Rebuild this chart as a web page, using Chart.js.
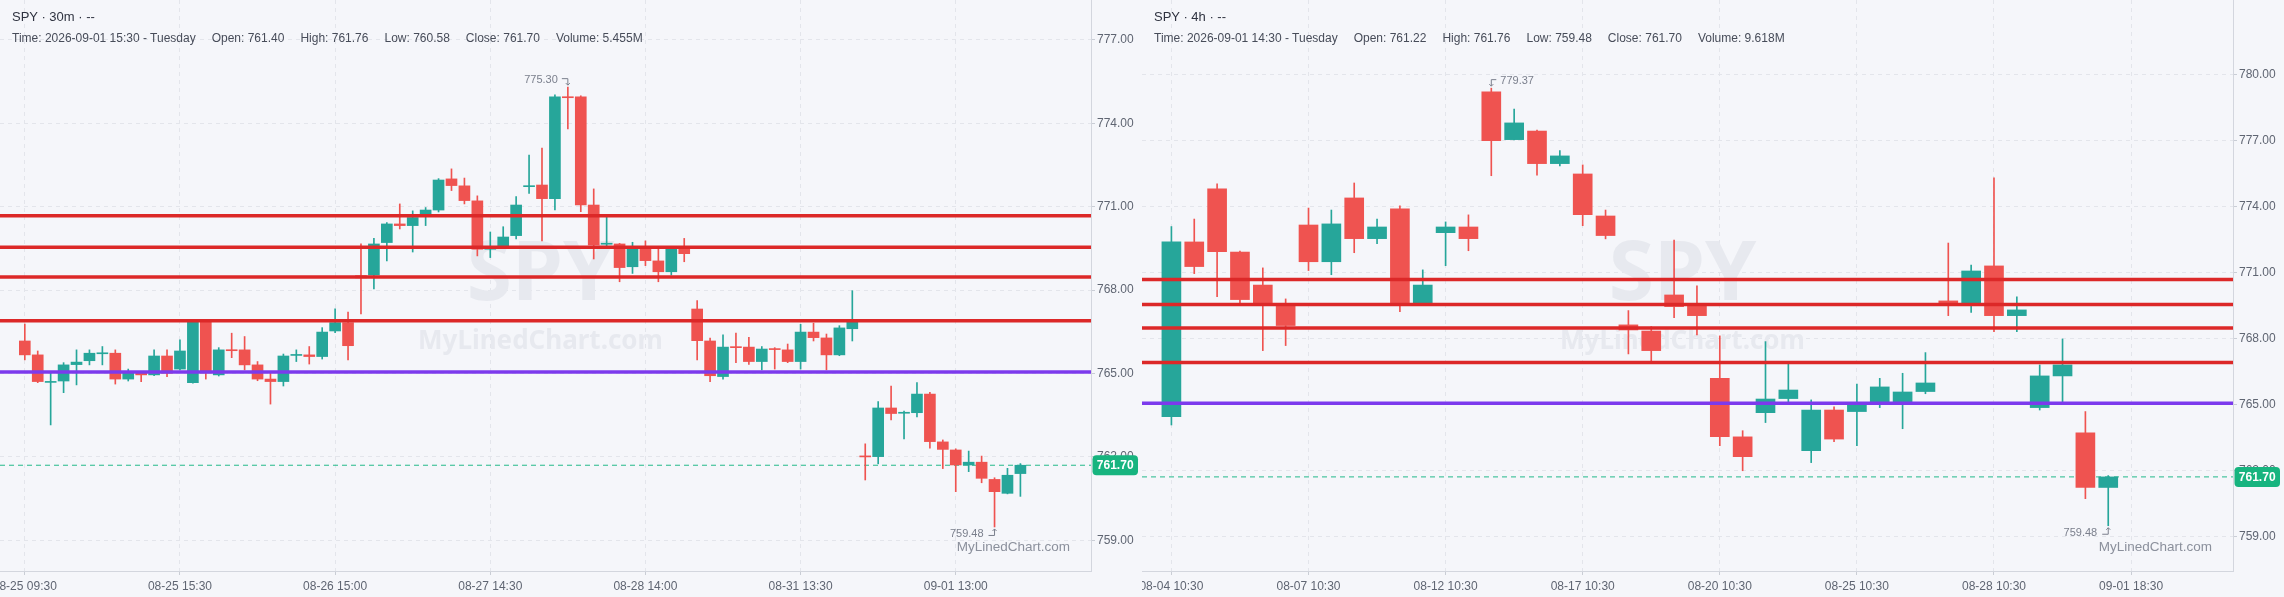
<!DOCTYPE html>
<html>
<head>
<meta charset="utf-8">
<script src="https://cdn.jsdelivr.net/npm/chart.js@4.4.1/dist/chart.umd.min.js"></script>
<style>
  body { margin: 0; width: 2284px; height: 597px; overflow: hidden; position: relative; background: #f5f6fa; font-family: Arial, "Liberation Sans", sans-serif; }
  .panel { position: absolute; top: 0; height: 597px; }
  #p1 { left: 0; width: 1141px; }
  #p2 { left: 1142px; width: 1142px; }
  canvas { position: absolute; left: 0; top: 0; }
  .title { position: absolute; left: 12px; top: 10px; font-size: 13px; line-height: 13px; color: #2f3340; white-space: nowrap; }
  .info { position: absolute; left: 12px; top: 32px; font-size: 12px; line-height: 12px; color: #474c59; white-space: nowrap; }
  .info span { margin-right: 16px; }
</style>
</head>
<body>
<div class="panel" id="p1">
  <canvas id="c1" width="1141" height="597"></canvas>
  <div class="title" id="t1"></div>
  <div class="info" id="i1"></div>
</div>
<div class="panel" id="p2">
  <canvas id="c2" width="1142" height="597"></canvas>
  <div class="title" id="t2"></div>
  <div class="info" id="i2"></div>
</div>
<script>
// 30 minute candles, 08-25 09:30 .. 09-01 15:30
var open30 = [766.17,765.67,764.68,764.73,765.32,765.46,765.71,765.73,764.80,765.01,764.95,765.63,765.16,
  764.67,766.90,764.95,765.85,765.85,765.31,764.80,764.71,765.65,765.67,765.61,766.53,766.83,
  768.52,768.54,769.71,770.38,770.32,770.74,770.88,772.00,771.75,771.21,769.47,769.56,769.96,
  771.72,771.78,771.29,774.95,774.95,771.06,769.65,769.66,768.84,769.47,769.05,768.66,769.47,
  767.32,766.17,764.89,765.95,765.95,765.43,765.88,765.85,765.43,766.49,766.28,765.67,766.61,
  762.03,762.01,763.76,763.57,763.59,764.26,762.54,762.25,761.71,761.81,761.19,760.69,761.40];
var high30 = [766.78,765.81,765.01,765.39,765.85,765.85,765.97,765.85,765.16,765.07,765.85,765.85,766.21,
  766.93,766.93,765.93,766.45,766.33,765.43,765.01,765.70,765.85,765.97,766.65,767.33,767.21,
  769.66,769.86,770.43,771.10,770.85,770.97,772.01,772.36,772.03,771.39,770.09,770.28,771.36,
  772.86,773.11,775.02,775.30,774.99,771.64,770.62,769.68,769.72,769.77,769.48,769.50,769.86,
  767.62,766.27,766.39,766.45,766.30,765.97,765.93,766.06,766.77,766.81,766.42,766.72,767.98,
  762.47,763.99,764.55,763.65,764.67,764.32,762.61,762.29,762.21,762.03,761.25,761.59,761.76];
var low30 = [765.49,764.67,763.15,764.31,764.59,765.31,765.31,764.62,764.73,764.71,764.92,764.89,765.13,
  764.65,764.80,764.91,765.57,765.13,764.74,763.90,764.55,765.43,765.34,765.52,766.47,765.49,
  767.14,768.04,769.05,770.20,769.37,770.32,770.81,771.58,771.10,769.23,769.17,769.54,769.84,
  771.48,769.77,770.88,773.80,770.82,769.12,769.50,768.30,768.60,768.88,768.30,768.54,769.02,
  765.49,764.71,764.80,765.39,765.33,765.13,765.16,765.39,765.16,766.17,765.13,765.64,766.17,
  761.17,761.75,763.33,762.65,763.44,762.31,761.58,760.75,761.47,761.07,759.48,760.67,760.58];
var close30 = [765.67,764.71,764.70,765.31,765.41,765.73,765.74,764.80,765.01,764.95,765.63,765.01,765.81,
  766.90,765.02,765.85,765.82,765.31,764.80,764.71,765.63,765.68,765.61,766.49,766.83,766.00,
  768.44,769.66,770.38,770.32,770.61,770.88,771.96,771.76,771.22,769.47,769.49,769.91,771.06,
  771.75,771.29,774.95,774.92,771.06,769.62,769.67,768.81,769.47,769.06,768.66,769.47,769.31,
  766.18,764.92,765.95,765.93,765.43,765.88,765.86,765.43,766.49,766.29,765.67,766.64,766.87,
  762.00,763.76,763.56,763.59,764.26,762.55,762.27,761.71,761.81,761.23,760.75,761.34,761.70];
var ticks30 = [0, 12, 24, 36, 48, 60, 72];
var tickLabels30 = ['08-25 09:30', '08-25 15:30', '08-26 15:00', '08-27 14:30', '08-28 14:00', '08-31 13:30', '09-01 13:00'];
var price30 = [759, 762, 765, 768, 771, 774, 777];

// 4 hour candles, 08-04 10:30 .. 09-01 14:30
var open4h = [764.44,772.38,774.79,771.92,770.42,769.59,773.15,771.48,774.38,772.53,773.88,769.59,
  772.80,773.06,779.20,777.03,777.42,775.94,775.47,773.56,768.61,768.33,769.97,769.52,
  766.18,763.52,764.62,765.26,762.89,764.74,764.67,765.12,765.12,765.58,769.70,769.62,
  771.29,769.03,764.85,766.29,763.70,761.22];
var high4h = [773.08,773.42,775.02,771.97,771.20,769.79,773.92,773.83,775.06,773.42,774.02,771.11,
  773.29,773.61,779.37,778.42,777.47,776.53,775.88,773.83,769.26,768.53,772.47,770.38,
  768.11,763.80,767.85,766.83,765.20,764.89,765.92,766.18,766.41,767.35,772.33,771.33,
  775.29,769.88,766.79,767.97,764.67,761.76];
var low4h = [764.06,770.94,769.89,769.61,767.44,767.67,771.08,770.89,771.89,772.30,769.21,769.56,
  771.30,771.98,775.39,777.02,775.42,775.83,773.12,772.52,767.29,766.97,768.94,768.15,
  763.12,761.98,764.17,765.05,762.35,763.30,763.12,764.85,763.89,765.48,769.03,769.18,
  768.30,768.30,764.74,765.12,760.71,759.48];
var close4h = [772.38,771.26,771.94,769.76,769.56,768.58,771.48,773.20,772.53,773.06,769.52,770.42,
  773.06,772.53,776.98,777.79,775.94,776.29,773.62,772.67,768.38,767.44,769.44,769.03,
  763.53,762.62,765.24,765.65,764.74,763.42,765.03,765.79,765.56,765.97,769.59,771.06,
  769.03,769.29,766.29,766.79,761.22,761.70];
var ticks4h = [0, 6, 12, 18, 24, 30, 36, 42];
var tickLabels4h = ['08-04 10:30', '08-07 10:30', '08-12 10:30', '08-17 10:30', '08-20 10:30', '08-25 10:30', '08-28 10:30', '09-01 18:30'];
var price4h = [759, 762, 765, 768, 771, 774, 777, 780];

var resistance = [770.67, 769.54, 768.47, 766.90];
var pivot = 765.05;
var lastPrice = 761.70;

var UP = '#26a69a', DOWN = '#ef5350';
var GRID = '#e3e5eb', AXIS = '#d3d6de', LABEL = '#5f6572';
var FONT = 'Arial, "Liberation Sans", sans-serif';

function fmt(v) { return v.toFixed(2); }

function header(id, tf, time, open, high, low, close, vol) {
  document.getElementById('t' + id).textContent = 'SPY \u00b7 ' + tf + ' \u00b7 --';
  document.getElementById('i' + id).innerHTML =
    '<span>Time: ' + time + '</span><span>Open: ' + fmt(open) + '</span><span>High: ' + fmt(high) +
    '</span><span>Low: ' + fmt(low) + '</span><span>Close: ' + fmt(close) + '</span><span>Volume: ' + vol + '</span>';
}

var extras = {
  id: 'extras',
  beforeDatasetsDraw: function (chart) {
    var ctx = chart.ctx, a = chart.chartArea;
    var cx = (a.left + a.right) / 2 - 5;
    ctx.save();
    ctx.fillStyle = '#e7e9ef';
    ctx.textAlign = 'center';
    ctx.textBaseline = 'alphabetic';
    ctx.font = 'bold 82px "Noto Sans"';
    ctx.fillText('SPY', cx, 300);
    ctx.font = 'bold 26px "Noto Sans"';
    ctx.fillText('MyLinedChart.com', cx, 349);
    ctx.restore();
  },
  afterDraw: function (chart, args, o) {
    var ctx = chart.ctx, a = chart.chartArea, x = chart.scales.x, y = chart.scales.y;
    ctx.save();
    ctx.font = '13.5px ' + FONT;
    ctx.fillStyle = '#8b909c';
    ctx.textAlign = 'right';
    ctx.textBaseline = 'middle';
    ctx.fillText('MyLinedChart.com', a.right - 21, 547);

    ctx.font = '11px ' + FONT;
    ctx.fillStyle = '#7a7f8c';
    ctx.strokeStyle = '#7a7f8c';
    ctx.lineWidth = 1;
    // high label
    var hx = x.getPixelForValue(o.hiIdx), hy = y.getPixelForValue(o.hiVal);
    ctx.beginPath();
    if (o.hiSide === 'left') {
      ctx.textAlign = 'right';
      ctx.fillText(fmt(o.hiVal), hx - 10, hy - 7);
      ctx.moveTo(hx - 6, hy - 8.5); ctx.lineTo(hx, hy - 8.5); ctx.lineTo(hx, hy - 2);
    } else {
      ctx.textAlign = 'left';
      ctx.fillText(fmt(o.hiVal), hx + 9, hy - 7);
      ctx.moveTo(hx + 5, hy - 8.5); ctx.lineTo(hx, hy - 8.5); ctx.lineTo(hx, hy - 2);
    }
    ctx.moveTo(hx - 2, hy - 4); ctx.lineTo(hx, hy - 2); ctx.lineTo(hx + 2, hy - 4);
    ctx.stroke();
    // low label
    var lx = x.getPixelForValue(o.loIdx), ly = y.getPixelForValue(o.loVal);
    ctx.textAlign = 'right';
    ctx.fillText(fmt(o.loVal), lx - 11, ly + 7);
    ctx.beginPath();
    ctx.moveTo(lx - 6, ly + 8.5); ctx.lineTo(lx, ly + 8.5); ctx.lineTo(lx, ly + 2);
    ctx.moveTo(lx - 2, ly + 4); ctx.lineTo(lx, ly + 2); ctx.lineTo(lx + 2, ly + 4);
    ctx.stroke();

    // last price badge
    var py = y.getPixelForValue(lastPrice);
    ctx.fillStyle = '#17b47f';
    ctx.beginPath();
    ctx.roundRect(a.right + 1.5, py - 10, 45.5, 20, 4);
    ctx.fill();
    ctx.fillStyle = '#ffffff';
    ctx.font = 'bold 12px ' + FONT;
    ctx.textAlign = 'center';
    ctx.fillText(fmt(lastPrice), a.right + 24.2, py + 0.5);
    ctx.restore();
  }
};

function makeChart(el, c) {
  var n = c.open.length;
  var idx = [];
  for (var i = 0; i < n; i++) idx.push(i);
  var color = function (ctx) { return c.close[ctx.dataIndex] >= c.open[ctx.dataIndex] ? UP : DOWN; };
  var datasets = [];
  resistance.forEach(function (v) {
    datasets.push({ type: 'line', data: [{ x: c.xmin, y: v }, { x: c.xmax, y: v }], borderColor: '#dc2828', borderWidth: 3.5, pointRadius: 0, order: 0 });
  });
  datasets.push({ type: 'line', data: [{ x: c.xmin, y: pivot }, { x: c.xmax, y: pivot }], borderColor: '#7c3aed', borderWidth: 3.5, pointRadius: 0, order: 0 });
  datasets.push({ type: 'bar', data: idx.map(function (i) { return { x: i, y: [c.open[i], c.close[i]] }; }),
    backgroundColor: color, barThickness: c.bodyW, minBarLength: 1, grouped: false, order: 2 });
  datasets.push({ type: 'bar', data: idx.map(function (i) { return { x: i, y: [c.low[i], c.high[i]] }; }),
    backgroundColor: color, barThickness: 1, grouped: false, order: 3 });
  datasets.push({ type: 'line', data: [{ x: c.xmin, y: lastPrice }, { x: c.xmax, y: lastPrice }], borderColor: '#22b98a', borderWidth: 1, borderDash: [5, 4], pointRadius: 0, order: 4 });

  return new Chart(el, {
    type: 'bar',
    data: { datasets: datasets },
    options: {
      responsive: false,
      animation: false,
      devicePixelRatio: 1,
      layout: { padding: 0 },
      plugins: {
        legend: { display: false },
        tooltip: { enabled: false },
        extras: { hiIdx: c.hiIdx, hiVal: c.hiVal, hiSide: c.hiSide, loIdx: c.loIdx, loVal: c.loVal }
      },
      scales: {
        x: {
          type: 'linear', min: c.xmin, max: c.xmax, bounds: 'data', offset: false,
          grid: { offset: false, color: GRID, tickColor: '#c9cdd5', tickLength: 4 },
          border: { display: true, color: AXIS, dash: [4, 4] },
          ticks: { autoSkip: false, maxRotation: 0, padding: 4, color: LABEL, font: { family: FONT, size: 12 },
            callback: function (v, i) { return c.tickLabels[i]; } },
          afterBuildTicks: function (s) { s.ticks = c.ticks.map(function (v) { return { value: v }; }); },
          afterFit: function (s) { s.height = 26; s.paddingLeft = 0; s.paddingRight = 0; }
        },
        y: {
          type: 'linear', position: 'right', min: c.ymin, max: c.ymax, bounds: 'data', beginAtZero: false,
          grid: { color: GRID, tickColor: '#c9cdd5', tickLength: 4 },
          border: { display: true, color: AXIS, dash: [4, 4] },
          ticks: { padding: 2, color: LABEL, font: { family: FONT, size: 12 }, callback: function (v) { return fmt(v); } },
          afterBuildTicks: function (s) { s.ticks = c.prices.map(function (v) { return { value: v }; }); },
          afterFit: function (s) { s.width = c.axisW; s.paddingTop = 0; s.paddingBottom = 0; }
        }
      }
    },
    plugins: [extras]
  });
}

header(1, '30m', '2026-09-01 15:30 - Tuesday', open30[77], high30[77], low30[77], close30[77], '5.455M');
header(2, '4h', '2026-09-01 14:30 - Tuesday', open4h[41], high4h[41], low4h[41], close4h[41], '9.618M');

makeChart(document.getElementById('c1'), {
  open: open30, high: high30, low: low30, close: close30,
  ticks: ticks30, tickLabels: tickLabels30, prices: price30,
  xmin: -1.918, xmax: 82.46, ymin: 757.896, ymax: 778.435,
  bodyW: 11, axisW: 50,
  hiIdx: 42, hiVal: 775.30, hiSide: 'left', loIdx: 75, loVal: 759.48
});

makeChart(document.getElementById('c2'), {
  open: open4h, high: high4h, low: low4h, close: close4h,
  ticks: ticks4h, tickLabels: tickLabels4h, prices: price4h,
  xmin: -1.287, xmax: 46.46, ymin: 757.423, ymax: 783.377,
  bodyW: 19, axisW: 51,
  hiIdx: 14, hiVal: 779.37, hiSide: 'right', loIdx: 41, loVal: 759.48
});
</script>
</body>
</html>
